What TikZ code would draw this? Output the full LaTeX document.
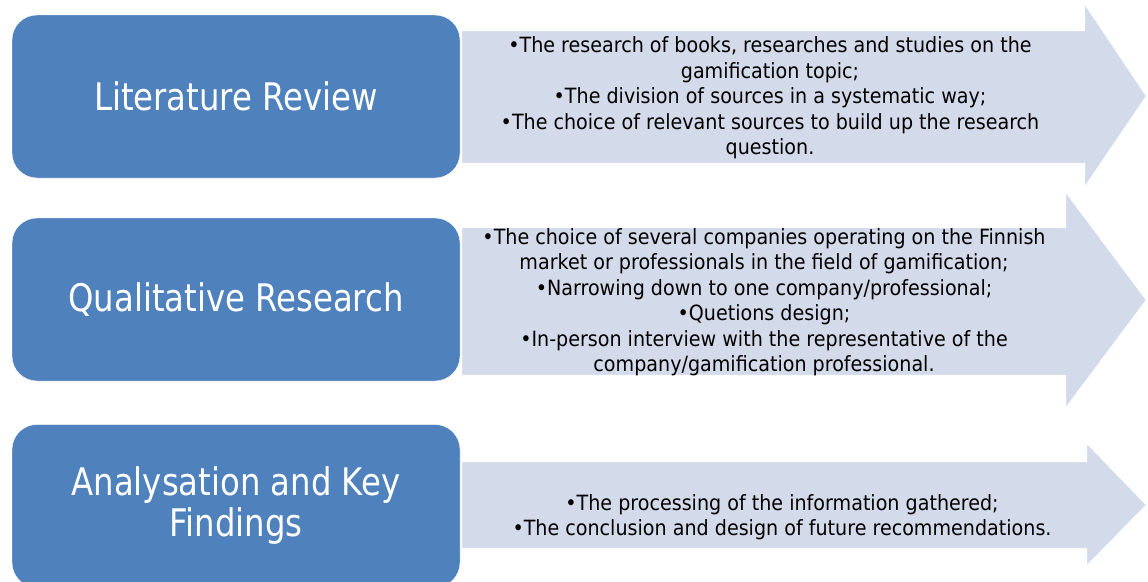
\documentclass[tikz,border=0pt]{standalone}
\usepackage{fontspec}
\setmainfont{DejaVu Sans}
\newfontfamily\titlefont[FakeStretch=0.85]{DejaVu Sans}
\newfontfamily\itemfont[FakeStretch=0.91]{DejaVu Sans}
\usepackage{xcolor}
\definecolor{stage-blue}{HTML}{4F81BD}
\definecolor{stage-light}{HTML}{D3DAEA}
\tikzset{
    stage-box/.style = {draw=white, fill=stage-blue, text=white, thin, rectangle, rounded corners=25pt, minimum width=448pt, minimum height=163pt, inner sep=0pt, align=center, font=\titlefont\fontsize{38}{41}\selectfont},
    stage-arrow/.style = {fill=stage-light, draw=white, thin},
    stage-text/.style = {align=center, inner sep=0pt, font=\itemfont\fontsize{21}{25.5}\selectfont},
}

\begin{document}
\begin{tikzpicture}[x=1pt, y=-1pt]
\useasboundingbox (0,0) rectangle (1148,581);
% arrows behind the text
\filldraw[stage-arrow] (462,31) -- (1085,31) -- (1085,5) -- (1146,96) -- (1085,186) -- (1085,163) -- (462,163) -- cycle;
\filldraw[stage-arrow] (462,228) -- (1066,228) -- (1066,193) -- (1146,300) -- (1066,407) -- (1066,375) -- (462,375) -- cycle;
\filldraw[stage-arrow] (462,462) -- (1087,462) -- (1087,444) -- (1146,505) -- (1087,565) -- (1087,548) -- (462,548) -- cycle;
% left boxes
\node[stage-box] (literature) at (236,96.5) {Literature Review};
\node[stage-box] (qualitative) at (236,299.5) {Qualitative Research};
\node[stage-box] (analysis) at (236,506) {Analysation and Key\\Findings};
% texts on the arrows
\node[stage-text] (literature-text) at (770,98) {•The research of books, researches and studies on the\\gamification topic;\\•The division of sources in a systematic way;\\•The choice of relevant sources to build up the research\\question.};
\node[stage-text] (qualitative-text) at (764,302) {•The choice of several companies operating on the Finnish\\market or professionals in the field of gamification;\\•Narrowing down to one company/professional;\\•Quetions design;\\•In-person interview with the representative of the\\company/gamification professional.};
\node[stage-text] (analysis-text) at (782,517) {•The processing of the information gathered;\\•The conclusion and design of future recommendations.};
\end{tikzpicture}
\end{document}
